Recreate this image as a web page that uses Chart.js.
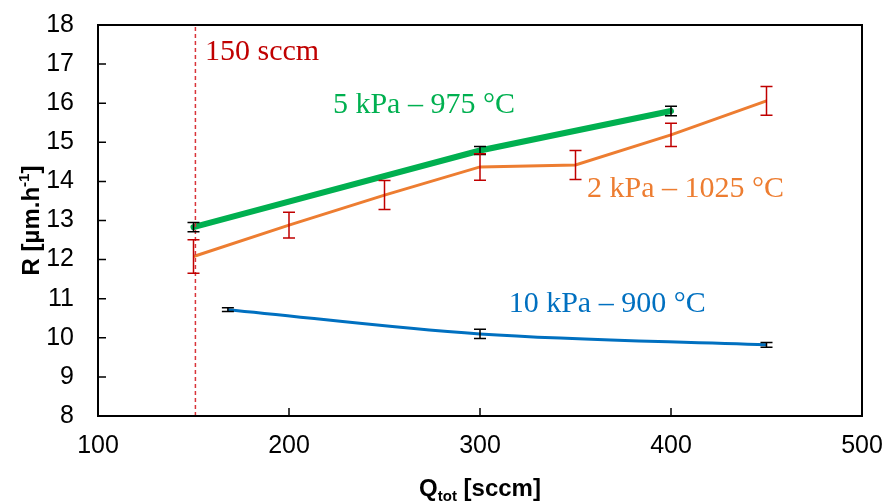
<!DOCTYPE html>
<html>
<head>
<meta charset="utf-8">
<script src="https://cdn.jsdelivr.net/npm/chart.js@4.4.1/dist/chart.umd.min.js"></script>
<style>
  body { margin: 0; background: #fff; }
  canvas { display: block; }
</style>
</head>
<body>
<canvas id="growthChart" width="887" height="501"></canvas>
<script>
// Q_tot (sccm) / R (µm.h-1) / error bars
const qBlue = [168, 300, 450];
const rBlue = [10.72, 10.1, 9.82];
const errBlue = [0.05, 0.12, 0.06];

const qGreen = [150, 300, 400];
const rGreen = [12.83, 14.79, 15.8];
const errGreen = [0.12, 0.1, 0.12];

const qOrange = [150, 200, 250, 300, 350, 400, 450];
const rOrange = [12.08, 12.88, 13.65, 14.37, 14.42, 15.19, 16.06];
const errOrange = [0.43, 0.33, 0.37, 0.34, 0.37, 0.3, 0.37];

const limitQ = 151;
const xTicks = [100, 200, 300, 400, 500];
const yTicks = [8, 9, 10, 11, 12, 13, 14, 15, 16, 17, 18];

const labels = [
    { text: '150 sccm', x: 156, y: 17.1, color: '#C00000' },
    { text: '5 kPa – 975 °C', x: 223, y: 15.75, color: '#00B050' },
    { text: '2 kPa – 1025 °C', x: 356, y: 13.6, color: '#ED7D31' },
    { text: '10 kPa – 900 °C', x: 315, y: 10.66, color: '#0070C0' }
];

function pts(xs, ys) {
    return xs.map((x, i) => ({ x: x, y: ys[i] }));
}

const extras = {
    id: 'extras',
    afterDatasetsDraw(chart) {
        const ctx = chart.ctx;
        const xs = chart.scales.x, ys = chart.scales.y;
        const area = chart.chartArea;

        // error bars
        const bars = [
            [qGreen, rGreen, errGreen, '#000'],
            [qBlue, rBlue, errBlue, '#000'],
            [qOrange, rOrange, errOrange, '#C00000']
        ];
        ctx.save();
        ctx.lineWidth = 1.5;
        bars.forEach(([q, r, e, col]) => {
            ctx.strokeStyle = col;
            q.forEach((v, i) => {
                const px = xs.getPixelForValue(v);
                const top = ys.getPixelForValue(r[i] + e[i]);
                const bot = ys.getPixelForValue(r[i] - e[i]);
                ctx.beginPath();
                ctx.moveTo(px, top); ctx.lineTo(px, bot);
                ctx.moveTo(px - 6, top); ctx.lineTo(px + 6, top);
                ctx.moveTo(px - 6, bot); ctx.lineTo(px + 6, bot);
                ctx.stroke();
            });
        });
        ctx.restore();

        // frame + inner ticks
        ctx.save();
        ctx.strokeStyle = '#000';
        ctx.lineWidth = 2;
        ctx.strokeRect(area.left, area.top, area.right - area.left, area.bottom - area.top);
        ctx.lineWidth = 1.5;
        ctx.beginPath();
        yTicks.forEach(v => {
            const py = ys.getPixelForValue(v);
            ctx.moveTo(area.left, py); ctx.lineTo(area.left + 8, py);
        });
        xTicks.forEach(v => {
            const px = xs.getPixelForValue(v);
            ctx.moveTo(px, area.bottom); ctx.lineTo(px, area.bottom - 8);
        });
        ctx.stroke();
        ctx.restore();

        // series labels
        ctx.save();
        ctx.font = '30px "Liberation Serif", serif';
        ctx.textBaseline = 'alphabetic';
        labels.forEach(l => {
            ctx.fillStyle = l.color;
            ctx.fillText(l.text, xs.getPixelForValue(l.x), ys.getPixelForValue(l.y));
        });
        ctx.restore();

        // axis titles with sub / superscript
        ctx.save();
        ctx.fillStyle = '#000';
        ctx.textBaseline = 'alphabetic';
        const big = 'bold 24px "Liberation Sans", Arial, sans-serif';
        const small = 'bold 15px "Liberation Sans", Arial, sans-serif';

        ctx.font = big;
        const wq = ctx.measureText('Q').width;
        const wr = ctx.measureText(' [sccm]').width;
        ctx.font = small;
        const wt = ctx.measureText('tot').width;
        let x0 = (area.left + area.right) / 2 - (wq + wt + wr) / 2;
        const bx = 496;
        ctx.font = big; ctx.fillText('Q', x0, bx);
        ctx.font = small; ctx.fillText('tot', x0 + wq, bx + 5);
        ctx.font = big; ctx.fillText(' [sccm]', x0 + wq + wt, bx);

        ctx.translate(39, (area.top + area.bottom) / 2);
        ctx.rotate(-Math.PI / 2);
        ctx.font = big;
        const a = ctx.measureText('R [µm.h').width;
        const c = ctx.measureText(']').width;
        ctx.font = small;
        const b = ctx.measureText('-1').width;
        let y0 = -(a + b + c) / 2;
        ctx.font = big; ctx.fillText('R [µm.h', y0, 0);
        ctx.font = small; ctx.fillText('-1', y0 + a, -10);
        ctx.font = big; ctx.fillText(']', y0 + a + b, 0);
        ctx.restore();
    }
};

const ctx = document.getElementById('growthChart').getContext('2d');
new Chart(ctx, {
    type: 'scatter',
    data: {
        datasets: [
            {
                data: [{ x: limitQ, y: 8 }, { x: limitQ, y: 18 }],
                borderColor: '#D9343A',
                borderWidth: 1.5,
                borderDash: [4, 3],
                showLine: true,
                pointRadius: 0
            },
            {
                data: pts(qBlue, rBlue),
                borderColor: '#0070C0',
                borderWidth: 3,
                showLine: true,
                tension: 0.35,
                pointRadius: 0
            },
            {
                data: pts(qOrange, rOrange),
                borderColor: '#ED7D31',
                borderWidth: 3,
                showLine: true,
                pointRadius: 0
            },
            {
                data: pts(qGreen, rGreen),
                borderColor: '#00B050',
                borderWidth: 6,
                borderCapStyle: 'round',
                showLine: true,
                pointRadius: 0
            }
        ]
    },
    options: {
        responsive: false,
        animation: false,
        layout: { padding: { top: 25, right: 25, left: 0, bottom: 0 } },
        plugins: {
            legend: { display: false },
            tooltip: { enabled: false }
        },
        scales: {
            x: {
                type: 'linear',
                min: 100,
                max: 500,
                afterFit: s => { s.height = 85; s.paddingLeft = 0; s.paddingRight = 0; },
                afterBuildTicks: s => { s.ticks = xTicks.map(v => ({ value: v })); },
                grid: { display: false, drawTicks: false },
                border: { display: false },
                ticks: {
                    padding: 15,
                    color: '#000',
                    font: { family: '"Liberation Sans", Arial, sans-serif', size: 25 }
                }
            },
            y: {
                min: 8,
                max: 18,
                afterFit: s => { s.width = 98; s.paddingTop = 0; s.paddingBottom = 0; },
                afterBuildTicks: s => { s.ticks = yTicks.map(v => ({ value: v })); },
                grid: { display: false, drawTicks: false },
                border: { display: false },
                ticks: {
                    padding: 24,
                    color: '#000',
                    font: { family: '"Liberation Sans", Arial, sans-serif', size: 25 }
                }
            }
        }
    },
    plugins: [extras]
});
</script>
</body>
</html>
